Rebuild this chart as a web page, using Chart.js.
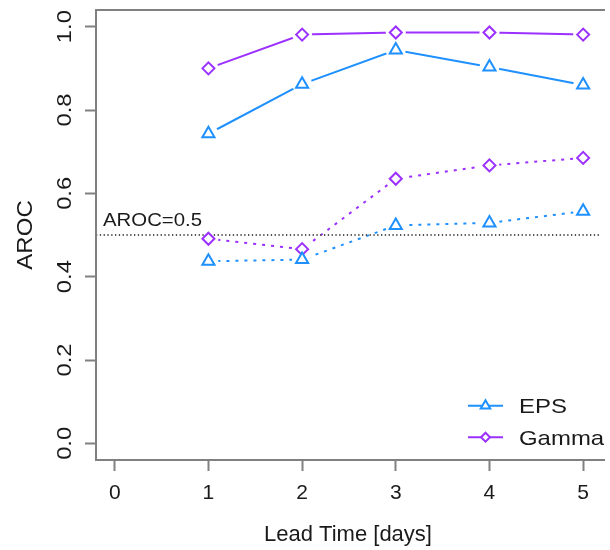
<!DOCTYPE html>
<html><head><meta charset="utf-8">
<script src="https://cdn.jsdelivr.net/npm/chart.js@4/dist/chart.umd.min.js"></script>
<style>html,body{margin:0;padding:0;background:#fff;}#wrap{width:610px;height:550px;}</style>
</head><body><div id="wrap"><canvas id="c" width="610" height="550"></canvas></div>
<script>
const leadTimes = [1, 2, 3, 4, 5];
const epsSolid = [0.743, 0.862, 0.944, 0.903, 0.860];
const gammaSolid = [0.900, 0.981, 0.986, 0.986, 0.981];
const epsDotted = [0.437, 0.441, 0.523, 0.529, 0.557];
const gammaDotted = [0.491, 0.466, 0.635, 0.667, 0.685];
const xTickValues = [0, 1, 2, 3, 4, 5];
const yTickValues = [0, 0.2, 0.4, 0.6, 0.8, 1.0];
const yTickLabels = ['0.0', '0.2', '0.4', '0.6', '0.8', '1.0'];
const seriesNames = ['EPS', 'Gamma'];
const refLevel = 0.5;
const refLabel = 'AROC=0.5';
const xTitle = 'Lead Time [days]';
const yTitle = 'AROC';
const xMin = -0.2, xMax = 5.18, yMin = -0.04, yMax = 1.04;

const EPS_COLOR = '#1E90FF', GAMMA_COLOR = '#9B30FF', AXIS = '#808080', TEXT = '#1a1a1a';
const FAMILY = '"Liberation Sans", Arial, Helvetica, sans-serif';

const pts = v => leadTimes.map((x, i) => ({x: x, y: v[i]}));
function lineDs(v, color, dash) {
  return {data: pts(v), showLine: true, borderColor: color, borderWidth: 2, borderDash: dash,
    pointRadius: 0, order: 10, fill: false, tension: 0};
}
function haloDs(v) {
  return {data: pts(v), showLine: false, pointRadius: 10, pointBackgroundColor: '#ffffff',
    pointBorderColor: '#ffffff', pointBorderWidth: 0, order: 5};
}
function markerDs(label, v, color, style, r) {
  return {label: label, data: pts(v), showLine: false, pointStyle: style, pointRadius: r,
    pointBackgroundColor: '#ffffff', pointBorderColor: color, pointBorderWidth: 2, order: 1};
}

function sText(ctx, str, x, y, size, stretch, align, rot) {
  ctx.save();
  ctx.translate(x, y);
  if (rot) ctx.rotate(rot);
  ctx.scale(stretch, 1);
  ctx.font = size + 'px ' + FAMILY;
  ctx.fillStyle = TEXT;
  ctx.textAlign = align;
  ctx.textBaseline = 'alphabetic';
  ctx.fillText(str, 0, 0);
  ctx.restore();
}
function drawMarker(ctx, style, x, y, r, color) {
  ctx.save();
  ctx.beginPath();
  if (style === 'triangle') {
    const s = Math.sin(Math.PI / 3) * r;
    ctx.moveTo(x, y - r); ctx.lineTo(x + s, y + r / 2); ctx.lineTo(x - s, y + r / 2);
  } else {
    ctx.moveTo(x, y - r); ctx.lineTo(x + r, y); ctx.lineTo(x, y + r); ctx.lineTo(x - r, y);
  }
  ctx.closePath();
  ctx.fillStyle = '#ffffff'; ctx.fill();
  ctx.strokeStyle = color; ctx.lineWidth = 2; ctx.stroke();
  ctx.restore();
}

const decor = {
  id: 'decor',
  afterDraw(chart) {
    const ctx = chart.ctx, ca = chart.chartArea, ys = chart.scales.y;
    ctx.save();
    ctx.strokeStyle = AXIS; ctx.lineWidth = 2;
    ctx.beginPath();
    ctx.moveTo(ca.right + 5, ca.top); ctx.lineTo(ca.left, ca.top);
    ctx.lineTo(ca.left, ca.bottom); ctx.lineTo(ca.right + 5, ca.bottom);
    ctx.stroke();
    ctx.restore();
    yTickValues.forEach((v, i) => {
      sText(ctx, yTickLabels[i], ca.left - 25.5, ys.getPixelForValue(v), 21, 1.13, 'center', -Math.PI / 2);
    });
    sText(ctx, yTitle, 31.5, (ca.top + ca.bottom) / 2, 21.5, 1.12, 'center', -Math.PI / 2);
    sText(ctx, refLabel, ca.left + 7, ys.getPixelForValue(refLevel) - 9, 18.2, 1.12, 'left', 0);
    const colors = [EPS_COLOR, GAMMA_COLOR], styles = ['triangle', 'diamond'], radii = [5.5, 4.5];
    const rows = [405.7, 437.2];
    seriesNames.forEach((name, i) => {
      const y = rows[i];
      ctx.save();
      ctx.strokeStyle = colors[i]; ctx.lineWidth = 2;
      ctx.beginPath(); ctx.moveTo(468, y); ctx.lineTo(503, y); ctx.stroke();
      ctx.restore();
      drawMarker(ctx, styles[i], 485.5, y, radii[i], colors[i]);
      sText(ctx, name, 519, y + 7.6, 21, 1.14, 'left', 0);
    });
  }
};

new Chart(document.getElementById('c'), {
  type: 'scatter',
  data: {
    datasets: [
      lineDs(epsSolid, EPS_COLOR, []),
      lineDs(gammaSolid, GAMMA_COLOR, []),
      lineDs(epsDotted, EPS_COLOR, [3, 6]),
      lineDs(gammaDotted, GAMMA_COLOR, [3, 6]),
      haloDs(epsSolid), haloDs(gammaSolid), haloDs(epsDotted), haloDs(gammaDotted),
      {data: [{x: xMin, y: refLevel}, {x: xMax, y: refLevel}], showLine: true, borderColor: '#555555',
        borderWidth: 1.8, borderDash: [1.3, 2.5], pointRadius: 0, order: 3},
      markerDs(seriesNames[0], epsSolid, EPS_COLOR, 'triangle', 7),
      markerDs(seriesNames[1], gammaSolid, GAMMA_COLOR, 'rectRot', 6),
      markerDs(seriesNames[0] + ' (dotted)', epsDotted, EPS_COLOR, 'triangle', 7),
      markerDs(seriesNames[1] + ' (dotted)', gammaDotted, GAMMA_COLOR, 'rectRot', 6)
    ]
  },
  options: {
    responsive: false,
    animation: false,
    devicePixelRatio: 1,
    events: [],
    layout: {padding: {top: 8, right: 0, bottom: 0, left: 0}},
    plugins: {legend: {display: false}, tooltip: {enabled: false}},
    scales: {
      x: {
        type: 'linear', min: xMin, max: xMax,
        afterBuildTicks: s => { s.ticks = xTickValues.map(v => ({value: v})); },
        afterFit: s => { s.height = 90; },
        ticks: {color: TEXT, font: {family: FAMILY, size: 21}, padding: 10, maxRotation: 0, autoSkip: false},
        grid: {drawOnChartArea: false, drawTicks: true, tickLength: 11, tickColor: AXIS, tickWidth: 2},
        border: {display: false},
        title: {display: true, text: xTitle, color: TEXT, font: {family: FAMILY, size: 22}, padding: {top: 0, bottom: 2}}
      },
      y: {
        type: 'linear', min: yMin, max: yMax,
        afterBuildTicks: s => { s.ticks = yTickValues.map(v => ({value: v})); },
        afterFit: s => { s.width = 96; },
        ticks: {display: false},
        grid: {drawOnChartArea: false, drawTicks: true, tickLength: 11, tickColor: AXIS, tickWidth: 2},
        border: {display: false},
        title: {display: false}
      }
    }
  },
  plugins: [decor]
});
</script></body></html>
